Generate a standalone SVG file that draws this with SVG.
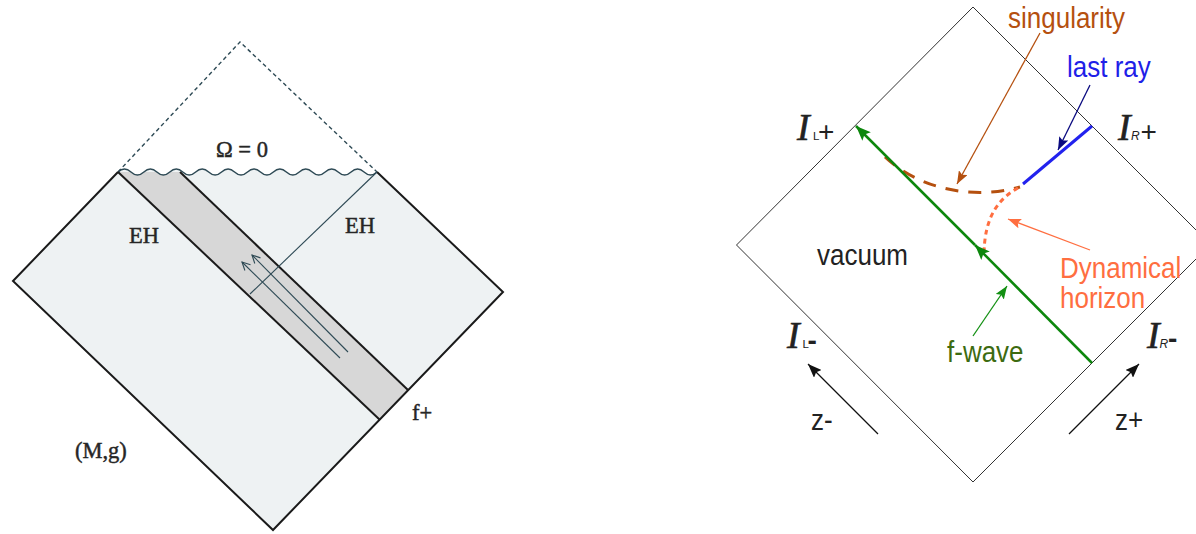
<svg xmlns="http://www.w3.org/2000/svg" width="1196" height="534" viewBox="0 0 1196 534">
<style>
.serif{font-family:"Liberation Serif","Times New Roman",serif;font-size:22.5px;fill:#262626;stroke:#262626;stroke-width:0.45}
.sans{font-family:"Liberation Sans",Arial,sans-serif;font-size:26px}
.ital{font-family:"Liberation Serif","Times New Roman",serif;font-style:italic;font-size:38px;fill:#222;stroke:#222;stroke-width:0.6}
.sub{font-family:"Liberation Sans",Arial,sans-serif;font-size:11.5px;fill:#222}
.subi{font-family:"Liberation Sans",Arial,sans-serif;font-style:italic;font-size:12px;fill:#222}
.pm{font-family:"Liberation Sans",Arial,sans-serif;font-size:28px;fill:#222}
.edge{fill:none;stroke:#1a1a1a;stroke-width:2;stroke-linejoin:miter}
.thin{fill:none;stroke:#2e4a55;stroke-width:1.1}
.frame{fill:none;stroke:#333;stroke-width:1}
</style>
<defs>
<clipPath id="regionClip">
<path d="M13,281 L118,172 q6.475,-6 12.95,0 t12.95,0 t12.95,0 t12.95,0 t12.95,0 t12.95,0 t12.95,0 t12.95,0 t12.95,0 t12.95,0 t12.95,0 t12.95,0 t12.95,0 t12.95,0 t12.95,0 t12.95,0 t12.95,0 t12.95,0 t12.95,0 t12.95,0 L503,292 L273,530 Z"/>
</clipPath>
<marker id="ahOpen" markerWidth="10" markerHeight="10" refX="9" refY="5" orient="auto" markerUnits="userSpaceOnUse"><path d="M1,1 L9,5 L1,9" fill="none" stroke="#2e4a55" stroke-width="1.1"/></marker>
<marker id="ahGreen" markerWidth="16" markerHeight="12" refX="15" refY="6" orient="auto" markerUnits="userSpaceOnUse"><path d="M0,0 L15,6 L0,12 L3,6 z" fill="#0d870d"/></marker>
<marker id="ahBrown" markerWidth="14" markerHeight="10" refX="13" refY="5" orient="auto" markerUnits="userSpaceOnUse"><path d="M0,0 L13,5 L0,10 L2.5,5 z" fill="#b5500f"/></marker>
<marker id="ahNavy" markerWidth="14" markerHeight="10" refX="13" refY="5" orient="auto" markerUnits="userSpaceOnUse"><path d="M0,0 L13,5 L0,10 L2.5,5 z" fill="#0a0a80"/></marker>
<marker id="ahCoral" markerWidth="14" markerHeight="10" refX="13" refY="5" orient="auto" markerUnits="userSpaceOnUse"><path d="M0,0 L13,5 L0,10 L2.5,5 z" fill="#ff6e40"/></marker>
<marker id="ahFwave" markerWidth="14" markerHeight="10" refX="13" refY="5" orient="auto" markerUnits="userSpaceOnUse"><path d="M0,0 L13,5 L0,10 L2.5,5 z" fill="#139013"/></marker>
<marker id="ahBlack" markerWidth="15" markerHeight="11" refX="14" refY="5.5" orient="auto" markerUnits="userSpaceOnUse"><path d="M0,0 L14,5.5 L0,11 L2.5,5.5 z" fill="#111"/></marker>
</defs>
<rect width="1196" height="534" fill="#fff"/>

<!-- LEFT DIAGRAM -->
<g id="left-diagram">
<g id="left-region">
<path d="M13,281 L118,172 q6.475,-6 12.95,0 t12.95,0 t12.95,0 t12.95,0 t12.95,0 t12.95,0 t12.95,0 t12.95,0 t12.95,0 t12.95,0 t12.95,0 t12.95,0 t12.95,0 t12.95,0 t12.95,0 t12.95,0 t12.95,0 t12.95,0 t12.95,0 t12.95,0 L503,292 L273,530 Z" fill="#eef2f3"/>
<polygon points="118,172 180,172 408,390 380,420" fill="#d7d7d7" clip-path="url(#regionClip)"/>
</g>
<g id="left-future-triangle">
<polyline points="118,172 240,42 377,172" fill="none" stroke="#2e4a55" stroke-width="1.4" stroke-dasharray="4 3"/>
</g>
<g id="left-omega-boundary">
<path d="M118,172 q6.475,-6 12.95,0 t12.95,0 t12.95,0 t12.95,0 t12.95,0 t12.95,0 t12.95,0 t12.95,0 t12.95,0 t12.95,0 t12.95,0 t12.95,0 t12.95,0 t12.95,0 t12.95,0 t12.95,0 t12.95,0 t12.95,0 t12.95,0 t12.95,0" fill="none" stroke="#2e4a55" stroke-width="1.4"/>
</g>
<g id="left-outline">
<polyline class="edge" points="118,172 13,281 273,530 503,292 377,172"/>
<line class="edge" x1="118" y1="172" x2="380" y2="420"/>
<line class="edge" x1="180" y1="172" x2="408" y2="390"/>
<line class="thin" x1="377" y1="172" x2="250" y2="294"/>
</g>
<g id="left-labels">
<text class="serif" x="216" y="157">Ω = 0</text>
<text class="serif" x="129" y="243">EH</text>
<text class="serif" x="345" y="233">EH</text>
<text class="serif" x="412" y="420">f+</text>
<text class="serif" x="75" y="458">(M,g)</text>
</g>
</g>

<!-- RIGHT DIAGRAM -->
<g id="right-diagram">
<g id="right-frame">
<polygon class="frame" points="973,7 1210.5,244.5 973,482 736.5,245"/>
</g>
<g id="singularity-curve">
<path d="M885,157 C920,190 975,200 1020,187" fill="none" stroke="#b5500f" stroke-width="3" stroke-dasharray="13 10"/>
</g>
<g id="dynamical-horizon-curve">
<path d="M1018,188 C1000,198 984,215 984,256" fill="none" stroke="#ff6e40" stroke-width="3" stroke-dasharray="5 4"/>
</g>
<g id="last-ray-line">
<line x1="1092" y1="126" x2="1023" y2="184" stroke="#2222ee" stroke-width="3"/>
</g>
<g id="f-wave-line">
<line x1="1092" y1="363" x2="975" y2="245" stroke="#0d870d" stroke-width="2.5" marker-end="url(#ahGreen)"/>
<line x1="975" y1="245" x2="856" y2="126" stroke="#0d870d" stroke-width="2.5" marker-end="url(#ahGreen)"/>
</g>
<g id="right-labels">
<text class="sans" fill="#b5500f" transform="translate(1008,28) scale(1,1.12)">singularity</text>
<text class="sans" fill="#1f1fe8" transform="translate(1067,77) scale(1,1.12)">last ray</text>
<text class="sans" fill="#ff6e40" transform="translate(1060,278) scale(1,1.12)">Dynamical</text>
<text class="sans" fill="#ff6e40" transform="translate(1060,307.5) scale(1,1.12)">horizon</text>
<text class="sans" fill="#3d6b10" transform="translate(947,361.5) scale(1,1.12)">f-wave</text>
<text class="sans" fill="#222" transform="translate(817,265) scale(1,1.12)">vacuum</text>
<text class="sans" fill="#222" transform="translate(811,430) scale(1,1.12)">z-</text>
<text class="sans" fill="#222" transform="translate(1115,430) scale(1,1.12)">z+</text>
</g>
<g id="label-IL-plus">
<text class="ital" x="797" y="140">I</text>
<text class="sub" x="813" y="140">L</text>
<text class="pm" x="818" y="141">+</text>
</g>
<g id="label-IR-plus">
<text class="ital" x="1118" y="140">I</text>
<text class="subi" x="1131" y="140">R</text>
<text class="pm" x="1140.5" y="141">+</text>
</g>
<g id="label-IL-minus">
<text class="ital" x="787" y="348">I</text>
<text class="sub" x="802.5" y="348">L</text>
<text class="pm" x="807.5" y="350" font-weight="bold">-</text>
</g>
<g id="label-IR-minus">
<text class="ital" x="1147" y="348">I</text>
<text class="subi" x="1159.5" y="348">R</text>
<text class="pm" x="1168" y="348" font-weight="bold">-</text>
</g>
</g>

<!-- CONNECTORS -->
<g id="connectors">
<line x1="348" y1="352" x2="252" y2="255" class="thin" marker-end="url(#ahOpen)"/>
<line x1="340" y1="358" x2="242" y2="262" class="thin" marker-end="url(#ahOpen)"/>
<line x1="1040" y1="33" x2="957" y2="184" stroke="#b5500f" stroke-width="1.3" marker-end="url(#ahBrown)"/>
<line x1="1090" y1="85" x2="1058" y2="150" stroke="#0a0a80" stroke-width="1.3" marker-end="url(#ahNavy)"/>
<line x1="1090" y1="250" x2="1008" y2="219" stroke="#ff6e40" stroke-width="1.3" marker-end="url(#ahCoral)"/>
<line x1="973" y1="336" x2="1007" y2="286" stroke="#139013" stroke-width="1.3" marker-end="url(#ahFwave)"/>
<line x1="878" y1="434" x2="808" y2="364" stroke="#111" stroke-width="1.3" marker-end="url(#ahBlack)"/>
<line x1="1069" y1="434" x2="1139" y2="364" stroke="#111" stroke-width="1.3" marker-end="url(#ahBlack)"/>
</g>
</svg>
